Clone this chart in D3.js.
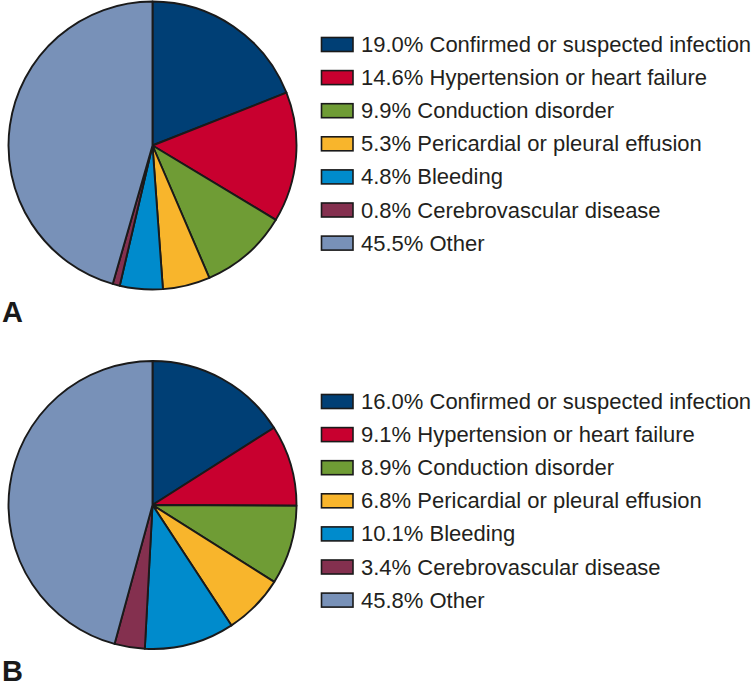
<!DOCTYPE html>
<html>
<head>
<meta charset="utf-8">
<script src="https://cdn.jsdelivr.net/npm/d3@7"></script>
<style>
  html, body { margin: 0; padding: 0; background: #ffffff; }
  svg { display: block; }
</style>
</head>
<body>
<svg id="chart" width="754" height="687"></svg>
<script>
// ---- Data ----
const categories = [
  "Confirmed or suspected infection",
  "Hypertension or heart failure",
  "Conduction disorder",
  "Pericardial or pleural effusion",
  "Bleeding",
  "Cerebrovascular disease",
  "Other"
];
const valuesA = [19.0, 14.6, 9.9, 5.3, 4.8, 0.8, 45.5];
const valuesB = [16.0, 9.1, 8.9, 6.8, 10.1, 3.4, 45.8];
const panelLabels = ["A", "B"];
const colors = ["#003f75", "#c8002f", "#6f9c35", "#f8b52c", "#008bcc", "#84304f", "#7891b8"];

// ---- Layout ----
const svg = d3.select("#chart");
const panels = [
  { values: valuesA, label: panelLabels[0], cx: 152.5, cy: 145.5, r: 144, legendY: 44.5, labelY: 322 },
  { values: valuesB, label: panelLabels[1], cx: 152.5, cy: 505, r: 144, legendY: 401.5, labelY: 681 }
];

const color = d3.scaleOrdinal().domain(categories).range(colors);
const pie = d3.pie().sort(null).value(d => d.v);
const rowStep = 33.1;
const legendRow = d3.scaleLinear().domain([0, 1]).range([0, rowStep]);

panels.forEach(p => {
  const data = categories.map((c, i) => ({ c, v: p.values[i] }));
  const arc = d3.arc().innerRadius(0).outerRadius(p.r);
  const g = svg.append("g").attr("transform", `translate(${p.cx},${p.cy})`);
  g.selectAll("path")
    .data(pie(data))
    .join("path")
    .attr("d", arc)
    .attr("fill", d => color(d.data.c))
    .attr("stroke", "#1a1a1a")
    .attr("stroke-width", 1.9)
    .attr("stroke-linejoin", "round");

  const lg = svg.append("g").attr("transform", `translate(0,${p.legendY})`);
  const rows = lg.selectAll("g")
    .data(data)
    .join("g")
    .attr("transform", (d, i) => `translate(0,${legendRow(i)})`);
  rows.append("rect")
    .attr("x", 321.5)
    .attr("y", -7)
    .attr("width", 31.5)
    .attr("height", 14)
    .attr("fill", d => color(d.c))
    .attr("stroke", "#1a1a1a")
    .attr("stroke-width", 1.6);
  rows.append("text")
    .attr("x", 361)
    .attr("y", 7.5)
    .attr("font-family", "'Liberation Sans', Arial, Helvetica, sans-serif")
    .attr("font-size", 22)
    .attr("fill", "#231f20")
    .text(d => `${d.v.toFixed(1)}% ${d.c}`);

  svg.append("text")
    .attr("x", 2)
    .attr("y", p.labelY)
    .attr("font-family", "'Liberation Sans', Arial, Helvetica, sans-serif")
    .attr("font-weight", "bold")
    .attr("font-size", 29)
    .attr("fill", "#1a1a1a")
    .text(p.label);
});
</script>
</body>
</html>
